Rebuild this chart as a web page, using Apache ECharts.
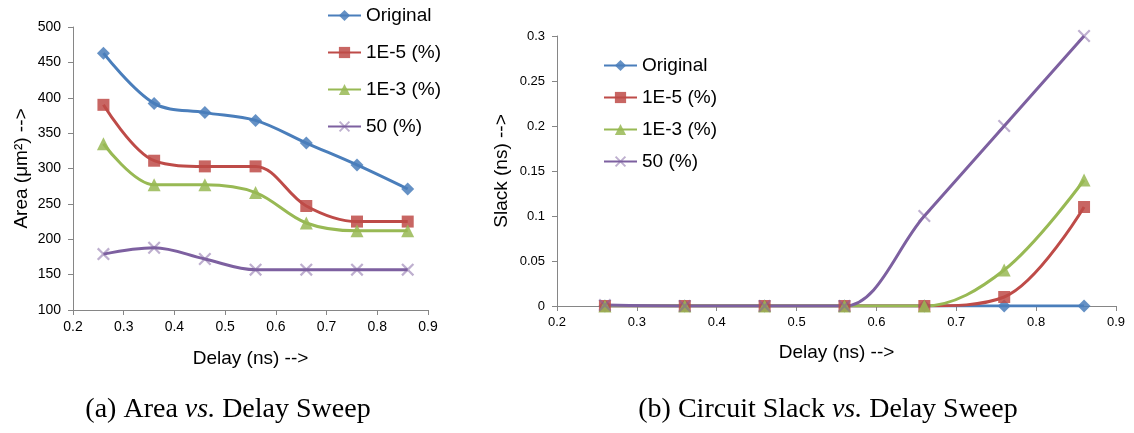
<!DOCTYPE html>
<html>
<head>
<meta charset="utf-8">
<script src="https://cdn.jsdelivr.net/npm/echarts@6/dist/echarts.min.js"></script>
<style>
  html, body { margin: 0; padding: 0; background: #fff; }
  #chart { width: 1134px; height: 433px; }
</style>
</head>
<body>
<div id="chart"></div>
<script>
// Delay sweep points (ns)
const delays = [0.26, 0.36, 0.46, 0.56, 0.66, 0.76, 0.86];
const seriesNames = ['Original', '1E-5 (%)', '1E-3 (%)', '50 (%)'];

// Area (um^2) per sweep point
const areaOriginal = [463, 392, 379, 368, 336, 305, 271];
const area1e5 = [390, 311, 303, 303, 247, 225, 225];
const area1e3 = [335, 277, 277, 266, 223, 212, 212];
const area50 = [179, 188, 172, 157, 157, 157, 157];

// Circuit slack (ns) per sweep point
const slackOriginal = [0, 0, 0, 0, 0, 0, 0];
const slack1e5 = [0, 0, 0, 0, 0, 0.01, 0.11];
const slack1e3 = [0, 0, 0, 0, 0, 0.04, 0.14];
const slack50 = [0.001, 0, 0, 0, 0.1, 0.2, 0.3];

// Axis tick settings
const delayTicks = { min: 0.2, max: 0.9, interval: 0.1 };
const areaTicks = { min: 100, max: 500, interval: 50 };
const slackTicks = { min: 0, max: 0.3, interval: 0.05 };

const colors = ['#4A7EBB', '#BE4B48', '#98B954', '#7D60A0'];
const xMark = 'path://M0,1.2 L1.2,0 L5,3.8 L8.8,0 L10,1.2 L6.2,5 L10,8.8 L8.8,10 L5,6.2 L1.2,10 L0,8.8 L3.8,5 Z';
const symbols = ['diamond', 'rect', 'triangle', xMark];
const symbolSizes = [13, 12, 13, 13];

const font = '"Liberation Sans", Arial, sans-serif';
const axisGray = '#868686';

function pairs(ys) { return delays.map((d, i) => [d, ys[i]]); }

function makeSeries(values, axisIndex) {
  return values.map((ys, k) => ({
    name: seriesNames[k],
    type: 'line',
    xAxisIndex: axisIndex,
    yAxisIndex: axisIndex,
    data: pairs(ys),
    smooth: 0.35,
    symbol: symbols[k],
    symbolSize: symbolSizes[k],
    showAllSymbol: true,
    lineStyle: { color: colors[k], width: 3 },
    itemStyle: { color: colors[k], opacity: k === 3 ? 0.5 : 0.85 },
    animation: false
  }));
}

function xAxisDef(gridIndex, gap, labelSize) {
  return {
    type: 'value', gridIndex,
    min: delayTicks.min, max: delayTicks.max, interval: delayTicks.interval,
    name: 'Delay (ns) -->', nameLocation: 'middle', nameGap: gap,
    nameTextStyle: { fontFamily: font, fontSize: 19, color: '#000' },
    axisLine: { show: true, onZero: false, lineStyle: { color: axisGray, width: 1 } },
    axisTick: { show: true, length: 5, lineStyle: { color: axisGray } },
    axisLabel: { fontFamily: font, fontSize: labelSize, color: '#000', margin: 10 },
    splitLine: { show: false }
  };
}

function yAxisDef(gridIndex, ticks, name, gap, labelSize) {
  return {
    type: 'value', gridIndex,
    min: ticks.min, max: ticks.max, interval: ticks.interval,
    name, nameLocation: 'middle', nameGap: gap,
    nameTextStyle: { fontFamily: font, fontSize: 19, color: '#000' },
    axisLine: { show: true, lineStyle: { color: axisGray, width: 1 } },
    axisTick: { show: true, length: 5, lineStyle: { color: axisGray } },
    axisLabel: { fontFamily: font, fontSize: labelSize, color: '#000', margin: 12 },
    splitLine: { show: false }
  };
}

function legendDef(left, top, gap) {
  return {
    orient: 'vertical', left, top,
    itemWidth: 33, itemHeight: 14, itemGap: gap,
    textStyle: { fontFamily: font, fontSize: 19, color: '#000' },
    data: seriesNames.map(n => ({ name: n })),
    selectedMode: false
  };
}

const captionFont = '"Liberation Serif", "DejaVu Serif", serif';
const captionRich = {
  n: { fontFamily: captionFont, fontSize: 28, color: '#000' },
  i: { fontFamily: captionFont, fontSize: 28, fontStyle: 'italic', color: '#000' }
};

const chart = echarts.init(document.getElementById('chart'), null, { renderer: 'canvas' });
chart.setOption({
  backgroundColor: '#fff',
  animation: false,
  color: colors,
  grid: [
    { left: 73, top: 27, width: 355, height: 283 },
    { left: 557, top: 36, width: 559, height: 270 }
  ],
  xAxis: [xAxisDef(0, 39, 14), xAxisDef(1, 37, 13)],
  yAxis: [
    yAxisDef(0, areaTicks, 'Area (\u03BCm\u00B2) -->', 42, 14),
    yAxisDef(1, slackTicks, 'Slack (ns) -->', 46, 13)
  ],
  legend: [legendDef(322, 1, 18), legendDef(598, 51, 13)],
  series: [].concat(
    makeSeries([areaOriginal, area1e5, area1e3, area50], 0),
    makeSeries([slackOriginal, slack1e5, slack1e3, slack50], 1)
  ),
  graphic: [
    {
      type: 'text', x: 228, y: 410,
      style: {
        text: '{n|(a) Area }{i|vs.}{n| Delay Sweep}',
        rich: captionRich, align: 'center', verticalAlign: 'middle'
      }
    },
    {
      type: 'text', x: 828, y: 410,
      style: {
        text: '{n|(b) Circuit Slack }{i|vs.}{n| Delay Sweep}',
        rich: captionRich, align: 'center', verticalAlign: 'middle'
      }
    }
  ]
});
</script>
</body>
</html>
